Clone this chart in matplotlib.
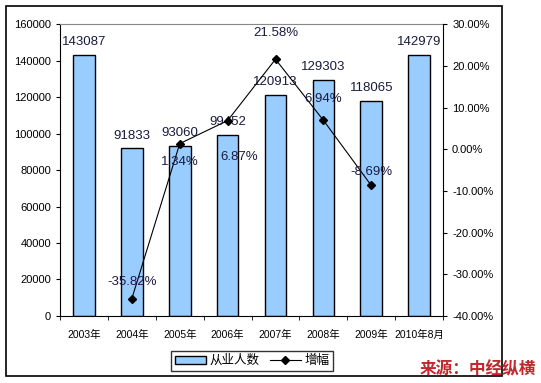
import matplotlib.pyplot as plt
import matplotlib.patches as mpatches
from matplotlib.lines import Line2D
import numpy as np

plt.rcParams['font.family'] = ['Liberation Sans', 'Noto Sans CJK SC', 'DejaVu Sans']

years = ['2003年', '2004年', '2005年', '2006年', '2007年', '2008年', '2009年', '2010年8月']
workers = [143087, 91833, 93060, 99452, 120913, 129303, 118065, 142979]
growth_idx = [1, 2, 3, 4, 5, 6]
growth = [-35.82, 1.34, 6.87, 21.58, 6.94, -8.69]
growth_labels = ['-35.82%', '1.34%', '6.87%', '21.58%', '6.94%', '-8.69%']
# label offsets in points (dx, dy)
label_off = [(0, 12), (0, -13), (8, -26), (0, 19), (0, 15), (0, 10)]

fig = plt.figure(figsize=(5.41, 3.83), dpi=100)
fig.patches.append(mpatches.Rectangle((0.011, 0.018), 0.917, 0.966, transform=fig.transFigure,
                                      fill=False, edgecolor='black', linewidth=1.2))
ax = fig.add_axes([0.111, 0.175, 0.708, 0.762])
x = np.arange(len(years))
ax.bar(x, workers, width=0.45, color='#99ccff', edgecolor='black', linewidth=1, zorder=2)
ax.set_xlim(-0.5, len(years) - 0.5)
ax.set_ylim(0, 160000)
ax.set_yticks(range(0, 160001, 20000))
ax.set_xticks(x)
ax.set_xticklabels(years, fontsize=7.5)
ax.set_xticks(np.arange(-0.5, len(years), 1), minor=True)
ax.tick_params(axis='x', which='major', length=0, pad=10)
ax.tick_params(axis='x', which='minor', length=3, direction='out')
ax.tick_params(axis='y', labelsize=8, length=3, direction='out')
ax.spines['top'].set_color('#888888')
ax.spines['right'].set_visible(False)

for xi, v in zip(x, workers):
    ax.annotate(str(v), (xi, v), xytext=(0, 5), textcoords='offset points',
                ha='center', va='bottom', fontsize=9.5, color='#1a1a40', zorder=5)

ax2 = ax.twinx()
ax2.plot(growth_idx, growth, color='black', linewidth=0.8, marker='D', markersize=4, zorder=3)
ax2.set_ylim(-40, 30)
ax2.set_yticks(range(-40, 31, 10))
ax2.set_yticklabels([f'{t:.2f}%' for t in range(-40, 31, 10)])
ax2.tick_params(axis='y', labelsize=8, length=3, direction='out')
ax2.spines['top'].set_visible(False)
ax2.spines['left'].set_visible(False)
ax2.spines['bottom'].set_visible(False)
for xi, v, lab, off in zip(growth_idx, growth, growth_labels, label_off):
    ax2.annotate(lab, (xi, v), xytext=off, textcoords='offset points',
                 ha='center', va='center', fontsize=9.5, color='#1a1a40', zorder=5)

handles = [mpatches.Patch(facecolor='#99ccff', edgecolor='black', label='从业人数'),
           Line2D([0], [0], color='black', linewidth=0.8, marker='D', markersize=4, label='增幅')]
leg = fig.legend(handles=handles, loc='center', bbox_to_anchor=(0.466, 0.057), ncol=2,
                 fontsize=9, frameon=True, fancybox=False, edgecolor='black',
                 handlelength=2.5, columnspacing=0.8, borderpad=0.3, handletextpad=0.3)
leg.get_frame().set_linewidth(1)

fig.text(0.99, 0.035, '来源：中经纵横', ha='right', va='center', fontsize=12,
         color='#c0282d', fontweight='bold', style='italic', family=['Noto Sans CJK SC'])

fig.savefig('out.png', dpi=100)
